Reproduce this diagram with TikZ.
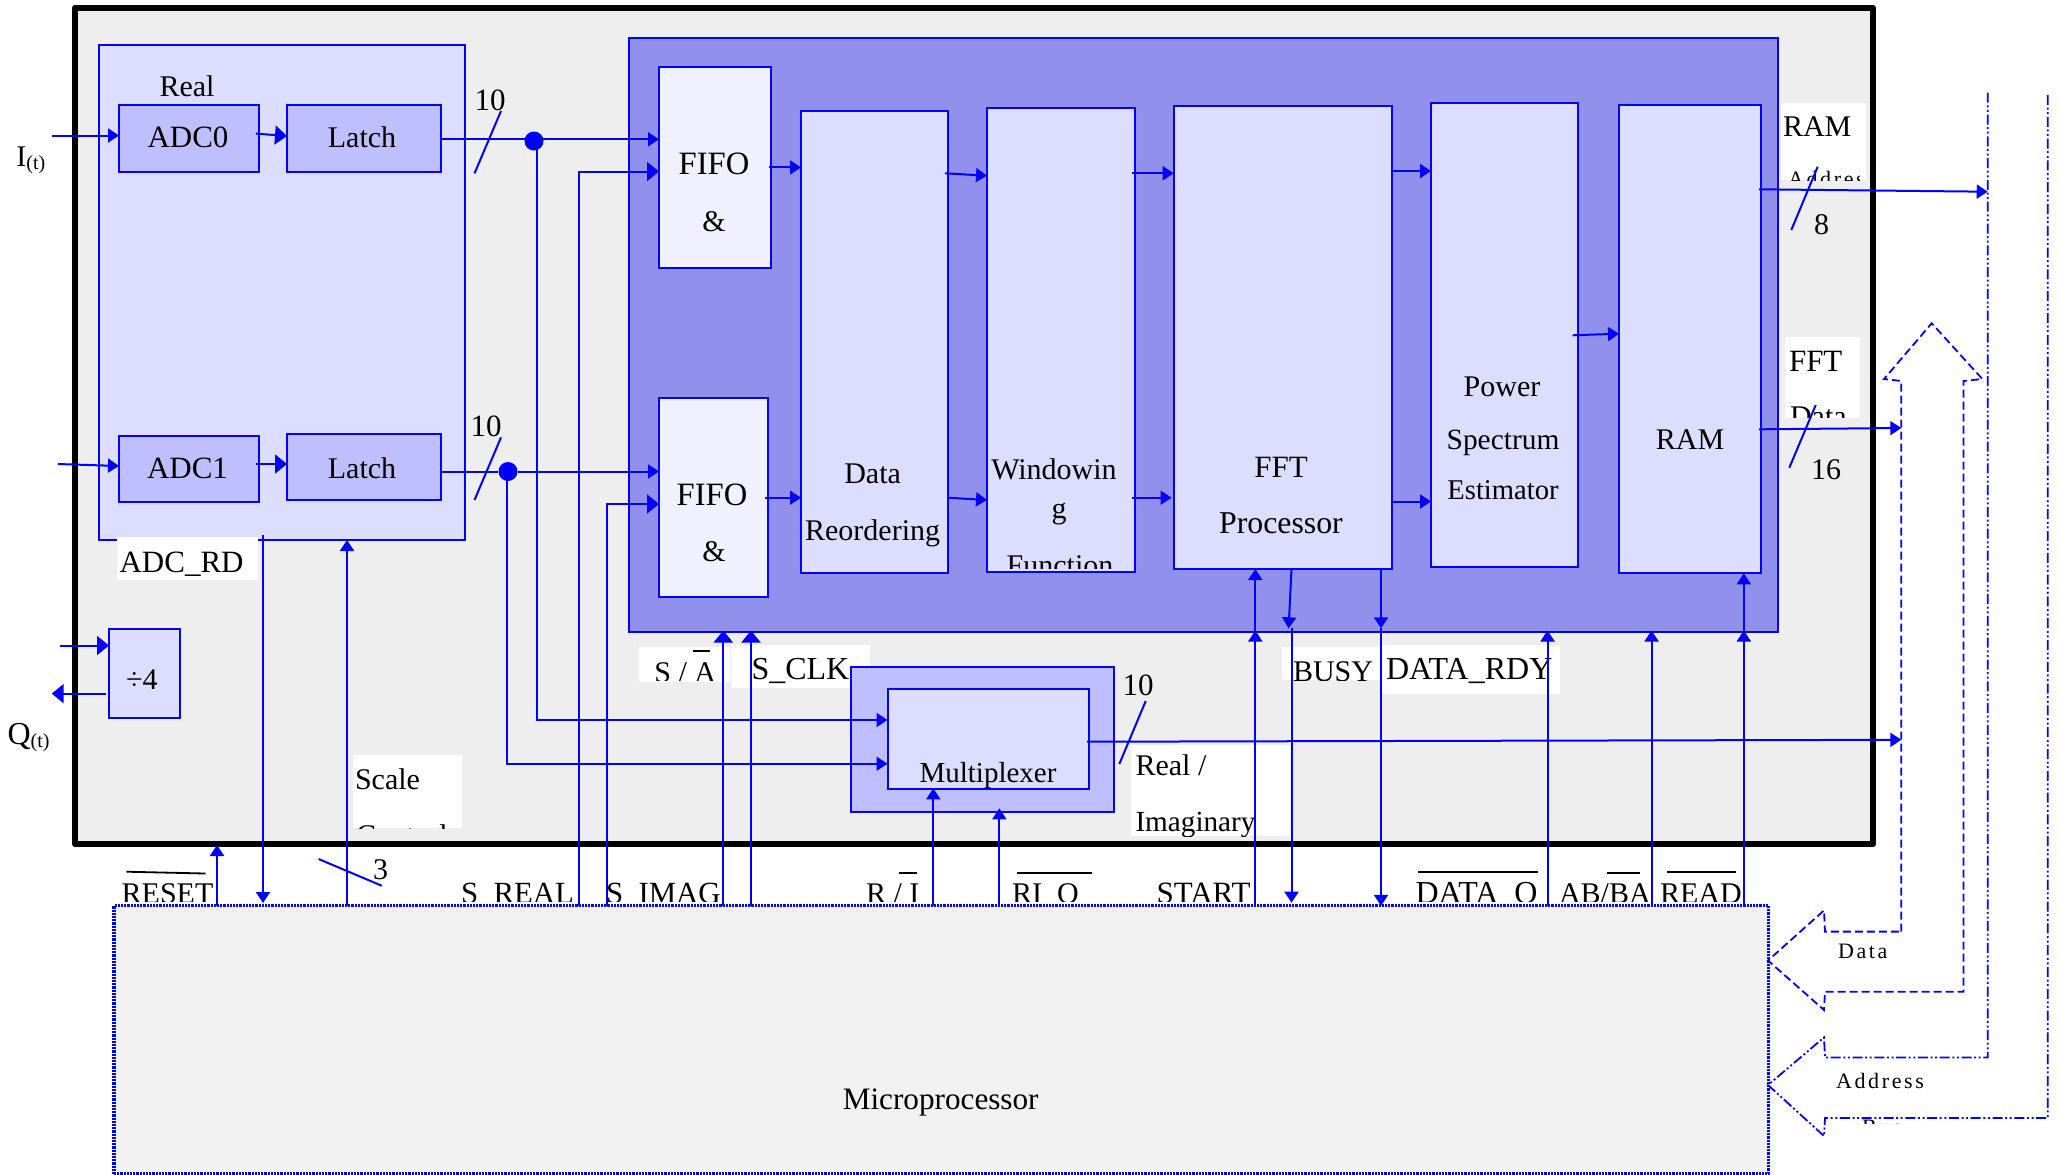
\documentclass[tikz,border=0pt]{standalone}
\usepackage{fontspec}
\setmainfont{Liberation Serif}
\newfontfamily\spacedfont[LetterSpace=12]{Liberation Serif}
\usetikzlibrary{arrows.meta,fit}
\definecolor{outerfill}{HTML}{EEEEEE}
\definecolor{lav}{HTML}{DDDDFF}
\definecolor{midfill}{HTML}{BFBFFF}
\definecolor{palefill}{HTML}{F0F0FF}
\definecolor{panelfill}{HTML}{9191ED}
\definecolor{microfill}{HTML}{F1F1F1}
\definecolor{pureblue}{HTML}{0000FF}
\tikzset{
  bbox/.style={draw=pureblue,line width=1pt,inner sep=0pt,outer sep=0pt},
  lavbox/.style={bbox,fill=lav},
  midbox/.style={bbox,fill=midfill},
  palebox/.style={bbox,fill=palefill},
  panelbox/.style={bbox,fill=panelfill},
  whitebox/.style={fill=white,inner sep=0pt,outer sep=0pt},
  tx/.style={inner sep=0pt,outer sep=0pt,anchor=base,font=\fontsize{15}{18}\selectfont},
  txl/.style={tx,anchor=base west},
  sz/.style={font=\fontsize{#1}{18}\selectfont},
  smalltx/.style={inner sep=0pt,outer sep=0pt,anchor=base west,font=\fontsize{11}{13}\selectfont\spacedfont},
  conn/.style={draw=pureblue,line width=1pt},
  ah/.style={conn,-{Triangle[length=5.5pt,width=7pt]}},
  al/.style={conn,-{Triangle[length=6pt,width=9.5pt]}},
  dot/.style={circle,fill=pureblue,inner sep=0pt,minimum size=9.5pt},
  ovl/.style={draw=black,line width=0.9pt},
  dbus/.style={draw=pureblue,line width=0.9pt,dash pattern=on 4pt off 2pt},
  abus/.style={draw=pureblue,line width=0.9pt,dash pattern=on 5pt off 1.3pt on 1pt off 1.3pt on 1pt off 1.3pt},
}
\newcommand{\bx}[6]{\node[#6,fit={(#2,#3)(#4,#5)}] (#1) {};}
\newcommand{\cliptx}[9]{\begin{scope}\clip (#2,#3) rectangle (#4,#5);\node[#9] (#1) at (#6,#7) {#8};\end{scope}}
\begin{document}
\begin{tikzpicture}[x=0.5pt,y=-0.5pt]
\useasboundingbox (0,0) rectangle (2060,1174);
% outer chip
\node[draw=black,line width=3pt,line join=round,fill=outerfill,inner sep=0pt,outer sep=0pt,fit={(75,7.5)(1873,844)}] (chip) {};
% white label patches and their texts
\bx{wScale}{352.5}{755}{462}{828}{whitebox}
\bx{wSA}{639}{647.4}{730}{681.5}{whitebox}
\bx{wSClk}{731}{645}{870}{688}{whitebox}
\bx{wReal}{1131}{745}{1290}{836}{whitebox}
\bx{wBusy}{1281.7}{647.3}{1381}{680}{whitebox}
\bx{wRdy}{1381}{645}{1560}{694}{whitebox}
\bx{wRamA}{1781}{103}{1866}{180}{whitebox}
\bx{wFftD}{1785}{336.7}{1860}{417.7}{whitebox}
% blocks
\bx{adc}{99}{45}{465}{540}{lavbox}
\bx{wAdcRd}{117}{537}{258}{580}{whitebox}
\bx{adcA}{119}{105}{259}{171.5}{midbox}
\bx{latchA}{287}{105}{441}{171.5}{midbox}
\bx{adcB}{119}{435.5}{259}{502}{midbox}
\bx{latchB}{287}{433.6}{441}{500}{midbox}
\bx{panel}{629}{37.5}{1778}{632}{panelbox}
\bx{fifoA}{659}{67}{771}{267.6}{palebox}
\bx{fifoB}{659}{397.5}{767.5}{597}{palebox}
\bx{reord}{801}{111}{947.6}{573.4}{lavbox}
\bx{win}{987}{107.5}{1135}{571.7}{lavbox}
\bx{fft}{1173.7}{105.5}{1391.5}{569}{lavbox}
\bx{power}{1431}{103}{1577.5}{567.3}{lavbox}
\bx{ram}{1619}{105}{1761}{573.3}{lavbox}
\bx{div}{109}{629}{179.7}{718}{lavbox}
\bx{muxP}{851}{667.3}{1113.5}{811.7}{midbox}
\bx{mux}{887.5}{689.3}{1089.4}{789.3}{lavbox}
% block texts
\node[tx] (tReal) at (187,96.5) {Real};
\node[tx,sz=15.5] (tAdc0) at (188,147) {ADC0};
\node[tx] (tLa) at (362,147) {Latch};
\node[tx,sz=15.5] (tAdc1) at (187.5,478) {ADC1};
\node[tx] (tLb) at (362,478) {Latch};
\node[tx,sz=16.3] (tFa) at (714,174) {FIFO};
\node[tx] (tFa2) at (714,231.5) {\&};
\node[tx,sz=16.3] (tFb) at (712,505) {FIFO};
\node[tx] (tFb2) at (714,561) {\&};
\node[tx] (tDa) at (872.6,483.6) {Data};
\node[tx] (tRe) at (872.6,540) {Reordering};
\node[tx] (tWi) at (1054,479.4) {Windowin};
\node[tx] (tG) at (1059,518) {g};
\cliptx{tFn}{990}{540}{1132}{568}{1060}{575}{Function}{tx}
\node[tx,sz=15.5] (tFf) at (1281,477) {FFT};
\node[tx,sz=15.9] (tPr) at (1281,533.5) {Processor};
\node[tx] (tPo) at (1502,396) {Power};
\node[tx,sz=14.7] (tSp) at (1503,449) {Spectrum};
\node[tx,sz=14.3] (tEs) at (1503,499.5) {Estimator};
\node[tx] (tRam) at (1690,449.5) {RAM};
\node[tx] (tDiv) at (141.8,689) {÷4};
\node[tx,sz=14.5] (tMux) at (988,782) {Multiplexer};
% outside and side texts
\node[txl] (tI) at (16.5,166.5) {I\raisebox{-1.5pt}{\fontsize{10}{12}\selectfont(t)}};
\node[txl,sz=16] (tQ) at (7.5,744.5) {Q\raisebox{-1.5pt}{\fontsize{10}{12}\selectfont(t)}};
\node[tx,sz=15.5] (t10a) at (490,110) {10};
\node[tx,sz=15.5] (t10b) at (486,436) {10};
\node[tx,sz=15.5] (t10c) at (1138,695) {10};
\node[tx] (t8) at (1821.7,234) {8};
\node[tx] (t16) at (1826,479) {16};
\node[tx] (t3) at (380.6,879) {3};
\node[txl,sz=15.5] (tAdcRd) at (119.6,572) {ADC\_RD};
\node[txl] (tScale) at (355,789.5) {Scale};
\cliptx{tCtl}{352.5}{800}{462}{828}{356}{845}{Control}{txl}
\cliptx{tSA}{639}{647}{730}{680.5}{654.4}{682}{S / A}{txl}
\node[txl,sz=16] (tSClk) at (751.5,679.6) {S\_CLK};
\node[txl] (tRim) at (1135.5,775) {Real /};
\cliptx{tImg}{1131}{800}{1290}{836}{1135.5}{831.7}{Imaginary}{txl,sz=14.6}
\cliptx{tBusy}{1281.7}{647}{1381}{680}{1293}{681}{BUSY}{txl}
\node[txl,sz=16] (tRdy) at (1386,679.3) {DATA\_RDY};
\node[txl] (tRamA) at (1783,136.7) {RAM};
\cliptx{tAddrA}{1781}{160}{1859}{180}{1788}{186.5}{Address}{smalltx}
\node[txl,sz=15.5] (tFftD) at (1789,371.7) {FFT};
\cliptx{tDataD}{1785}{390}{1860}{417.7}{1790}{426.7}{Data}{txl}
% labels above the microprocessor, cut along their lower edge
\cliptx{tReset}{110}{860}{216}{901.5}{121.7}{903}{RESET}{txl}
\cliptx{tSReal}{455}{860}{578}{901.5}{461}{903}{S\_REAL}{txl,sz=15.4}
\cliptx{tSImag}{600}{860}{722}{901.5}{606}{903}{S\_IMAG}{txl,sz=15.4}
\cliptx{tRI}{860}{860}{932}{901.5}{866}{903}{R / I}{txl}
\cliptx{tRio}{1005}{860}{1098}{901.5}{1012}{903}{RI\_O}{txl}
\cliptx{tStart}{1150}{860}{1254}{901.5}{1156.6}{903}{START}{txl,sz=15.5}
\cliptx{tDataO}{1410}{860}{1546}{901.5}{1415.6}{903}{DATA\_O}{txl,sz=16}
\cliptx{tAbBa}{1553}{860}{1650}{901.5}{1559}{903}{AB/BA}{txl}
\cliptx{tRead}{1655}{860}{1743}{901.5}{1660}{903}{READ}{txl}
% overlines
\draw[ovl] (126.3,871.7) -- (205.5,873.5);
\draw[ovl] (693,651) -- (710,651);
\draw[ovl] (899,873) -- (917,873);
\draw[ovl] (1016.5,873.3) -- (1092,873.3);
\draw[ovl] (1418.4,871.7) -- (1538,871.7);
\draw[ovl] (1606.7,873) -- (1640,873);
\draw[ovl] (1666.7,871.6) -- (1736,871.6);
% microprocessor
\node[draw=pureblue,line width=1.6pt,dash pattern=on 1.1pt off 0.5pt,fill=microfill,inner sep=0pt,outer sep=0pt,fit={(114,905.8)(1768.7,1173.5)}] (micro) {};
\node[tx,sz=15.6] (tMic) at (940.7,1109.5) {Microprocessor};
% bus arrows
\draw[dbus] (1901.3,931.6) -- (1901.3,381) -- (1884,379) -- (1931.7,323.3) -- (1982.3,379) -- (1963.5,381) -- (1963.5,991.7) -- (1825,991.7) -- (1824,1010) -- (1768,960.5) -- (1824,910.4) -- (1825,931.6) -- cycle;
\draw[abus] (1987.7,92.7) -- (1987.7,1057.5) -- (1825,1057.5) -- (1824,1037.4) -- (1768,1085) -- (1824,1136) -- (1825,1118) -- (2047.7,1118) -- (2047.7,92.7);
\node[smalltx] (tBd) at (1838,958) {Data};
\node[smalltx] (tBa) at (1836,1088) {Address};
\cliptx{tBb}{1855}{1110}{1900}{1123}{1862}{1134}{Bus}{smalltx}
% named points of the connectors
\coordinate (iIn) at (52,135.5);
\coordinate (iEnd) at (0,135.5);
\coordinate (qIn) at (58,464);
\coordinate (qEnd) at (0,466);
\coordinate (lAs) at (256,133.6);
\coordinate (lAe) at (0,136);
\coordinate (lBs) at (256,464);
\coordinate (lBe) at (0,464);
\coordinate (rowA) at (0,139.3);
\coordinate (rowB) at (0,471.5);
\coordinate (rowSr) at (0,171.5);
\coordinate (rowSi) at (0,504);
\coordinate (rowMa) at (0,720);
\coordinate (rowMb) at (0,763.7);
\node[dot] (dotA) at (534,141) {};
\node[dot] (dotB) at (508,471.5) {};
\coordinate (colA) at (537,0);
\coordinate (colB) at (507,0);
\coordinate (colSr) at (578.8,0);
\coordinate (colSi) at (606.8,0);
\coordinate (divIn) at (60,645.5);
\coordinate (divOutE) at (51.7,693.6);
\coordinate (divOutS) at (106,693.6);
\coordinate (colRd) at (263,535);
\coordinate (colSc) at (347,0);
\coordinate (colRst) at (217,0);
\coordinate (colSa) at (723.3,0);
\coordinate (colSk) at (751,0);
\coordinate (colRi) at (933.3,0);
\coordinate (colRo) at (999.3,0);
\coordinate (colSt) at (1255.3,0);
\coordinate (colBu) at (1291.5,0);
\coordinate (colBuT) at (1288.6,628.3);
\coordinate (colDr) at (1381,0);
\coordinate (colDo) at (1547.5,0);
\coordinate (colAb) at (1651.5,0);
\coordinate (colRe) at (1743.8,0);
\coordinate (sA) at (768.6,167.4);
\coordinate (sB) at (765,497.7);
\coordinate (dwAs) at (945,173.3);
\coordinate (dwAe) at (0,175.7);
\coordinate (dwBs) at (0,497.7);
\coordinate (dwBe) at (0,500);
\coordinate (wfAs) at (1132,173.3);
\coordinate (wfBs) at (1132,497.7);
\coordinate (wfBe) at (1171.6,497.7);
\coordinate (fpA) at (0,171);
\coordinate (fpB) at (0,501.5);
\coordinate (prS) at (1572.7,335.3);
\coordinate (prE) at (0,333.7);
\coordinate (addrS) at (1759,189.3);
\coordinate (addrE) at (1987.7,191.7);
\coordinate (dataS) at (1759,429.3);
\coordinate (dataE) at (1901.3,428);
\coordinate (muxOs) at (1087,741.7);
\coordinate (muxOe) at (1901.3,739.8);
\coordinate (tipTop) at (0,630.5);
\coordinate (tipRi) at (0,788.3);
\coordinate (tipRo) at (0,808.3);
\coordinate (tipRst) at (0,845);
\coordinate (tipRd) at (0,903);
\coordinate (tipBu) at (0,902.7);
% connectors: front end
\draw[ah] (iIn) -- (adcA.west |- iIn);
\draw[ah] (qIn) -- (adcB.west |- qEnd);
\draw[al] (lAs) -- (latchA.west |- lAe);
\draw[al] (lBs) -- (latchB.west |- lBe);
\draw[conn] (latchA.east |- rowA) -- (dotA.center |- rowA);
\draw[ah] (dotA.center |- rowA) -- (fifoA.west |- rowA);
\draw[conn] (latchB.east |- rowB) -- (dotB);
\draw[ah] (dotB) -- (fifoB.west |- rowB);
\draw[ah] (colA |- dotA) -- (colA |- rowMa) -- (mux.west |- rowMa);
\draw[ah] (colB |- dotB) -- (colB |- rowMb) -- (mux.west |- rowMb);
\draw[al] (colSr |- micro.north) -- (colSr |- rowSr) -- (fifoA.west |- rowSr);
\draw[al] (colSi |- micro.north) -- (colSi |- rowSi) -- (fifoB.west |- rowSi);
\draw[al] (divIn) -- (div.west |- divIn);
\draw[al] (divOutS) -- (divOutE);
% connectors: chain
\draw[ah] (sA) -- (reord.west |- sA);
\draw[ah] (sB) -- (reord.west |- sB);
\draw[ah] (dwAs) -- (win.west |- dwAe);
\draw[ah] (reord.east |- dwBs) -- (win.west |- dwBe);
\draw[ah] (wfAs) -- (fft.west |- wfAs);
\draw[ah] (wfBs) -- (wfBe);
\draw[ah] (fft.east |- fpA) -- (power.west |- fpA);
\draw[ah] (fft.east |- fpB) -- (power.west |- fpB);
\draw[ah] (prS) -- (ram.west |- prE);
\draw[ah] (addrS) -- (addrE);
\draw[ah] (dataS) -- (dataE);
\draw[ah] (muxOs) -- (muxOe);
% connectors: microprocessor
\draw[ah] (colRst |- micro.north) -- (colRst |- tipRst);
\draw[ah] (colRd) -- (colRd |- tipRd);
\draw[ah] (colSc |- micro.north) -- (colSc |- adc.south);
\draw[al] (colSa |- micro.north) -- (colSa |- tipTop);
\draw[al] (colSk |- micro.north) -- (colSk |- tipTop);
\draw[ah] (colRi |- micro.north) -- (colRi |- tipRi);
\draw[ah] (colRo |- micro.north) -- (colRo |- tipRo);
\draw[ah] (colSt |- micro.north) -- (colSt |- tipTop);
\draw[ah] (colSt |- tipTop) -- (colSt |- fft.south);
\draw[ah] (colBu |- fft.south) -- (colBuT);
\draw[ah] (colBu |- colBuT) -- (colBu |- tipBu);
\draw[ah] (colDr |- fft.south) -- (colDr |- colBuT);
\draw[ah] (colDr |- colBuT) -- (colDr |- micro.north);
\draw[ah] (colDo |- micro.north) -- (colDo |- tipTop);
\draw[ah] (colAb |- micro.north) -- (colAb |- tipTop);
\draw[ah] (colRe |- micro.north) -- (colRe |- tipTop);
\draw[ah] (colRe |- tipTop) -- (colRe |- ram.south);
% bus-width slashes
\draw[conn] (501,111) -- (474.5,173.4);
\draw[conn] (501,437.4) -- (474.5,500);
\draw[conn] (1145.7,701) -- (1119.3,764);
\draw[conn] (1817.7,166.7) -- (1791.3,230);
\draw[conn] (1815.7,405) -- (1789.3,467.7);
\draw[conn] (318.6,859) -- (381.7,885.7);
\end{tikzpicture}
\end{document}
